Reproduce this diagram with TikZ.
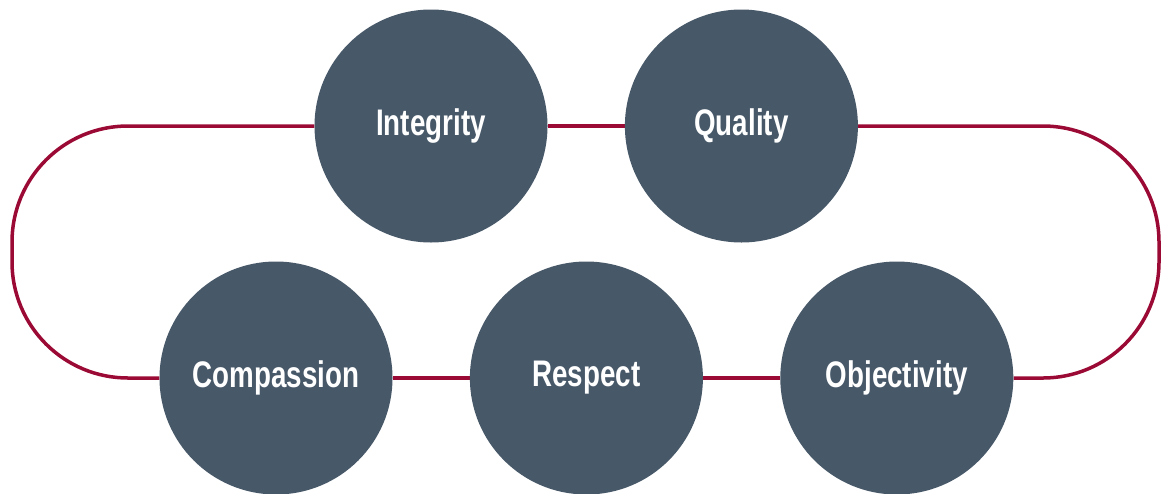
\documentclass[tikz,border=0pt]{standalone}
\usepackage{fontspec}
\newfontfamily\valuefont{Liberation Sans Bold}[FakeStretch=0.75]
\usepackage{tikz}
\usetikzlibrary{positioning, backgrounds}

\definecolor{slate}{HTML}{475869}
\definecolor{crimson}{HTML}{9B0A35}

\begin{document}
\begin{tikzpicture}[x=1pt, y=-1pt,
		value/.style={circle, fill=slate, minimum size=233pt, inner sep=0pt,
			text=white, font=\valuefont\fontsize{37}{40}\selectfont},
		link/.style={draw=crimson, line width=3.5pt, rounded corners=116pt}]
				\useasboundingbox (0,0) rectangle (1162,493);

				\node[value] (integ) at (431,126) {\raisebox{-3pt}{Integrity}};
				\node[value, right=77pt of integ] (qual) {\raisebox{-3pt}{Quality}};
				\node[value] (comp) at (276,378) {\raisebox{-2pt}{Compassion}};
				\node[value, right=77pt of comp] (resp) {\raisebox{-2pt}{Respect}};
				\node[value, right=77pt of resp] (obj) {\raisebox{-2pt}{Objectivity}};

				\begin{scope}[on background layer]
				\draw[link] (integ) -- (qual);
				\draw[link] (comp) -- (resp);
				\draw[link] (resp) -- (obj);
				\draw[link] (integ.west) -- (12,126) -- (12,378) -- (comp.west);
				\draw[link] (qual.east) -- (1159,126) -- (1159,378) -- (obj.east);
				\end{scope}
			\end{tikzpicture}
\end{document}
